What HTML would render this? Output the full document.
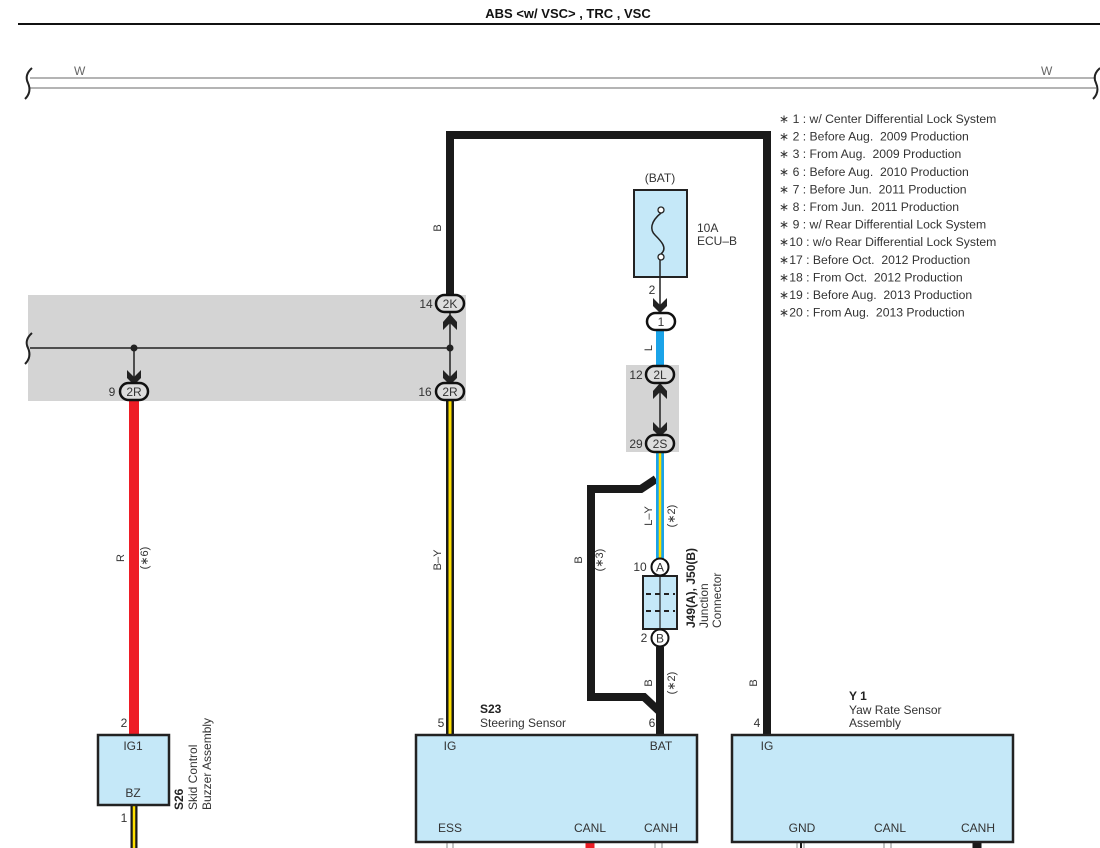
<!DOCTYPE html>
<html><head><meta charset="utf-8"><style>
html,body{margin:0;padding:0;background:#fff;width:1100px;height:848px;overflow:hidden}
svg{display:block;font-family:"Liberation Sans",sans-serif}
text{fill:#333}
</style></head><body>
<svg width="1100" height="848" viewBox="0 0 1100 848" xmlns="http://www.w3.org/2000/svg">
<text x="568" y="18" text-anchor="middle" font-size="13" font-weight="bold" style="fill:#111">ABS &lt;w/ VSC&gt; , TRC , VSC</text>
<line x1="18" y1="24" x2="1100" y2="24" stroke="#111" stroke-width="2"/>

<!-- W wire -->
<line x1="30" y1="78" x2="1096" y2="78" stroke="#888" stroke-width="1.3"/>
<line x1="30" y1="88" x2="1096" y2="88" stroke="#888" stroke-width="1.3"/>
<path d="M32 68 Q24 75 28 83 Q32 92 25 99" fill="none" stroke="#222" stroke-width="2"/>
<path d="M1100 68 Q1092 75 1096 83 Q1100 92 1093 99" fill="none" stroke="#222" stroke-width="2"/>
<text x="74" y="75" font-size="12" style="fill:#666">W</text>
<text x="1041" y="75" font-size="12" style="fill:#666">W</text>

<!-- notes -->
<g font-size="12.2">
<text x="779" y="123">∗ 1 : w/ Center Differential Lock System</text>
<text x="779" y="140.6">∗ 2 : Before Aug.&#160; 2009 Production</text>
<text x="779" y="158.2">∗ 3 : From Aug.&#160; 2009 Production</text>
<text x="779" y="175.8">∗ 6 : Before Aug.&#160; 2010 Production</text>
<text x="779" y="193.4">∗ 7 : Before Jun.&#160; 2011 Production</text>
<text x="779" y="211">∗ 8 : From Jun.&#160; 2011 Production</text>
<text x="779" y="228.6">∗ 9 : w/ Rear Differential Lock System</text>
<text x="779" y="246.2">∗10 : w/o Rear Differential Lock System</text>
<text x="779" y="263.8">∗17 : Before Oct.&#160; 2012 Production</text>
<text x="779" y="281.4">∗18 : From Oct.&#160; 2012 Production</text>
<text x="779" y="299">∗19 : Before Aug.&#160; 2013 Production</text>
<text x="779" y="316.6">∗20 : From Aug.&#160; 2013 Production</text>
</g>

<!-- gray areas -->
<rect x="28" y="295" width="438" height="106" fill="#d4d4d4"/>
<rect x="626" y="365" width="53" height="87" fill="#d4d4d4"/>

<!-- big B wire -->
<path d="M450 296 V135 H767 V735" fill="none" stroke="#1a1a1a" stroke-width="8"/>
<text transform="translate(441,228) rotate(-90)" font-size="11" text-anchor="middle">B</text>
<text transform="translate(757,683) rotate(-90)" font-size="11" text-anchor="middle">B</text>

<!-- thin horizontal line -->
<line x1="30" y1="348" x2="450" y2="348" stroke="#222" stroke-width="1.5"/>
<path d="M32 333 Q24 340 28 348 Q32 357 25 364" fill="none" stroke="#222" stroke-width="2"/>
<circle cx="134" cy="348" r="3.5" fill="#222"/>
<circle cx="450" cy="348" r="3.5" fill="#222"/>
<line x1="134" y1="348" x2="134" y2="385" stroke="#222" stroke-width="1.5"/>
<line x1="450" y1="312" x2="450" y2="385" stroke="#222" stroke-width="1.5"/>
<path d="M443 322 L450 314 L457 322 L457 330 L450 323 L443 330 Z" fill="#222"/>
<path d="M443 370 L450 377 L457 370 L457 378 L450 385 L443 378 Z" fill="#222"/>
<path d="M127 370 L134 377 L141 370 L141 378 L134 385 L127 378 Z" fill="#222"/>

<!-- red wire -->
<line x1="134" y1="399" x2="134" y2="735" stroke="#ee1c25" stroke-width="10"/>
<text transform="translate(124,558) rotate(-90)" font-size="11" text-anchor="middle">R</text>
<text transform="translate(148,558) rotate(-90)" font-size="11" text-anchor="middle">(∗6)</text>

<!-- B-Y wire -->
<line x1="450" y1="399" x2="450" y2="735" stroke="#1a1a1a" stroke-width="8"/>
<line x1="450" y1="399" x2="450" y2="735" stroke="#ffe000" stroke-width="3"/>
<text transform="translate(441,560) rotate(-90)" font-size="11" text-anchor="middle">B–Y</text>

<g font-size="12" text-anchor="middle">
<rect x="436" y="295" width="28" height="17" rx="8.5" fill="#ddd" stroke="#111" stroke-width="2.5"/>
<text x="450" y="308">2K</text>
<text x="426" y="308">14</text>
<rect x="436" y="383" width="28" height="17" rx="8.5" fill="#ddd" stroke="#111" stroke-width="2.5"/>
<text x="450" y="396">2R</text>
<text x="425" y="396">16</text>
<rect x="120" y="383" width="28" height="17" rx="8.5" fill="#ddd" stroke="#111" stroke-width="2.5"/>
<text x="134" y="396">2R</text>
<text x="112" y="396">9</text>
</g>

<!-- fuse -->
<text x="660" y="182" font-size="12" text-anchor="middle">(BAT)</text>
<rect x="634" y="190" width="53" height="87" fill="#c5e8f8" stroke="#222" stroke-width="2"/>
<circle cx="661" cy="210" r="3" fill="#fff" stroke="#222" stroke-width="1.3"/>
<circle cx="661" cy="257" r="3" fill="#fff" stroke="#222" stroke-width="1.3"/>
<path d="M661 213 C650 222 650 230 655 235 C661 241 668 248 661 254" fill="none" stroke="#222" stroke-width="1.5"/>
<text x="697" y="232" font-size="12">10A</text>
<text x="697" y="245" font-size="12">ECU–B</text>
<line x1="660" y1="260" x2="660" y2="312" stroke="#222" stroke-width="1.5"/>
<text x="652" y="294" font-size="12" text-anchor="middle">2</text>
<path d="M653 298 L660 305 L667 298 L667 306 L660 313 L653 306 Z" fill="#222"/>

<line x1="660" y1="328" x2="660" y2="366" stroke="#1aa3e8" stroke-width="8"/>
<text transform="translate(652,348) rotate(-90)" font-size="11" text-anchor="middle">L</text>
<rect x="647" y="313" width="28" height="17" rx="8.5" fill="#fff" stroke="#111" stroke-width="2.5"/>
<text x="661" y="326" font-size="12" text-anchor="middle">1</text>

<line x1="660" y1="380" x2="660" y2="436" stroke="#222" stroke-width="1.5"/>
<path d="M653 391 L660 383 L667 391 L667 399 L660 392 L653 399 Z" fill="#222"/>
<path d="M653 422 L660 429 L667 422 L667 430 L660 437 L653 430 Z" fill="#222"/>

<path d="M656 479 L641 489 H591 V697 H644 L660 712" fill="none" stroke="#1a1a1a" stroke-width="8" stroke-linejoin="miter"/>
<text transform="translate(582,560) rotate(-90)" font-size="11" text-anchor="middle">B</text>
<text transform="translate(603,560) rotate(-90)" font-size="11" text-anchor="middle">(∗3)</text>

<line x1="660" y1="450" x2="660" y2="560" stroke="#1aa3e8" stroke-width="8"/>
<line x1="660" y1="450" x2="660" y2="560" stroke="#ffe000" stroke-width="2.5"/>
<text transform="translate(652,516) rotate(-90)" font-size="11" text-anchor="middle">L–Y</text>
<text transform="translate(675,516) rotate(-90)" font-size="11" text-anchor="middle">(∗2)</text>

<g font-size="12" text-anchor="middle">
<rect x="646" y="366" width="28" height="17" rx="8.5" fill="#ddd" stroke="#111" stroke-width="2.5"/>
<text x="660" y="379">2L</text>
<text x="636" y="379">12</text>
<rect x="646" y="435" width="28" height="17" rx="8.5" fill="#ddd" stroke="#111" stroke-width="2.5"/>
<text x="660" y="448">2S</text>
<text x="636" y="448">29</text>
</g>

<rect x="643" y="576" width="34" height="53" fill="#c5e8f8" stroke="#222" stroke-width="2"/>
<line x1="660" y1="576" x2="660" y2="629" stroke="#222" stroke-width="1.2"/>
<line x1="646" y1="594" x2="675" y2="594" stroke="#222" stroke-width="2" stroke-dasharray="5,4"/>
<line x1="646" y1="611" x2="675" y2="611" stroke="#222" stroke-width="2" stroke-dasharray="5,4"/>
<circle cx="660" cy="567" r="8.5" fill="#fff" stroke="#111" stroke-width="2"/>
<text x="660" y="571.5" font-size="12" text-anchor="middle">A</text>
<circle cx="660" cy="638" r="8.5" fill="#fff" stroke="#111" stroke-width="2"/>
<text x="660" y="642.5" font-size="12" text-anchor="middle">B</text>
<text x="640" y="571" font-size="12" text-anchor="middle">10</text>
<text x="644" y="642" font-size="12" text-anchor="middle">2</text>
<text transform="translate(695,628) rotate(-90)" font-size="12" font-weight="bold" style="fill:#222">J49(A), J50(B)</text>
<text transform="translate(708,628) rotate(-90)" font-size="12">Junction</text>
<text transform="translate(721,628) rotate(-90)" font-size="12">Connector</text>

<line x1="660" y1="647" x2="660" y2="735" stroke="#1a1a1a" stroke-width="8"/>
<text transform="translate(652,683) rotate(-90)" font-size="11" text-anchor="middle">B</text>
<text transform="translate(675,683) rotate(-90)" font-size="11" text-anchor="middle">(∗2)</text>

<line x1="134" y1="805" x2="134" y2="848" stroke="#1a1a1a" stroke-width="7"/>
<line x1="134" y1="805" x2="134" y2="848" stroke="#ffe000" stroke-width="2.5"/>
<rect x="98" y="735" width="71" height="70" fill="#c5e8f8" stroke="#222" stroke-width="2.5"/>
<g font-size="12" text-anchor="middle">
<text x="133" y="750">IG1</text>
<text x="133" y="797">BZ</text>
<text x="124" y="727">2</text>
<text x="124" y="822">1</text>
</g>
<text transform="translate(183,810) rotate(-90)" font-size="12" font-weight="bold" style="fill:#222">S26</text>
<text transform="translate(197,810) rotate(-90)" font-size="12">Skid Control</text>
<text transform="translate(211,810) rotate(-90)" font-size="12">Buzzer Assembly</text>

<g stroke="#888" stroke-width="1">
<line x1="447" y1="842" x2="447" y2="848"/><line x1="453" y1="842" x2="453" y2="848"/>
<line x1="655" y1="842" x2="655" y2="848"/><line x1="662" y1="842" x2="662" y2="848"/>
<line x1="797" y1="842" x2="797" y2="848"/><line x1="804" y1="842" x2="804" y2="848"/>
<line x1="884" y1="842" x2="884" y2="848"/><line x1="891" y1="842" x2="891" y2="848"/>
</g>
<line x1="590" y1="842" x2="590" y2="848" stroke="#ee1c25" stroke-width="9"/>
<line x1="801" y1="842" x2="801" y2="848" stroke="#1a1a1a" stroke-width="2"/>
<line x1="977" y1="842" x2="977" y2="848" stroke="#1a1a1a" stroke-width="9"/>
<rect x="416" y="735" width="281" height="107" fill="#c5e8f8" stroke="#222" stroke-width="2.5"/>
<g font-size="12" text-anchor="middle">
<text x="450" y="750">IG</text>
<text x="450" y="832">ESS</text>
<text x="590" y="832">CANL</text>
<text x="661" y="832">CANH</text>
<text x="661" y="750">BAT</text>
<text x="441" y="727">5</text>
<text x="652" y="727">6</text>
<text x="757" y="727">4</text>
</g>
<text x="480" y="713" font-size="12" font-weight="bold" style="fill:#222">S23</text>
<text x="480" y="727" font-size="12">Steering Sensor</text>

<rect x="732" y="735" width="281" height="107" fill="#c5e8f8" stroke="#222" stroke-width="2.5"/>
<g font-size="12" text-anchor="middle">
<text x="767" y="750">IG</text>
<text x="802" y="832">GND</text>
<text x="890" y="832">CANL</text>
<text x="978" y="832">CANH</text>
</g>
<text x="849" y="700" font-size="12" font-weight="bold" style="fill:#222">Y 1</text>
<text x="849" y="714" font-size="12">Yaw Rate Sensor</text>
<text x="849" y="727" font-size="12">Assembly</text>
</svg>
</body></html>
